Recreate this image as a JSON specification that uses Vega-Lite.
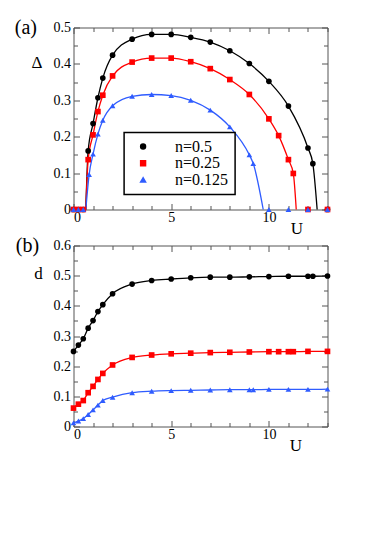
{
  "$schema": "https://vega.github.io/schema/vega-lite/v6.json",
  "background": "white",
  "padding": {"left": 13.5, "top": 16.5, "right": 5, "bottom": 5},
  "bounds": "flush",
  "spacing": 36,
  "config": {
    "font": "Liberation Serif",
    "view": {"stroke": "#555", "strokeWidth": 1},
    "axis": {
      "grid": false,
      "domain": false,
      "labelFont": "Liberation Serif",
      "labelFontSize": 14,
      "labelColor": "#000",
      "tickColor": "#555",
      "tickWidth": 1,
      "titleFont": "Liberation Serif",
      "titleFontWeight": "normal",
      "titleColor": "#000",
      "titleFontSize": 17
    },
    "legend": {"strokeWidth": 1.5},
    "title": {"font": "Liberation Serif", "fontWeight": "normal", "fontSize": 20, "color": "#000"}
  },
  "datasets": {
    "a_pts": [
      {"U": 0, "v": 0, "n": "n=0.5"}, {"U": 0.25, "v": 0, "n": "n=0.5"}, {"U": 0.5, "v": 0, "n": "n=0.5"},
      {"U": 0.75, "v": 0.161, "n": "n=0.5"}, {"U": 1, "v": 0.236, "n": "n=0.5"}, {"U": 1.25, "v": 0.307, "n": "n=0.5"},
      {"U": 1.5, "v": 0.361, "n": "n=0.5"}, {"U": 2, "v": 0.424, "n": "n=0.5"}, {"U": 3, "v": 0.468, "n": "n=0.5"},
      {"U": 4, "v": 0.481, "n": "n=0.5"}, {"U": 5, "v": 0.481, "n": "n=0.5"}, {"U": 6, "v": 0.473, "n": "n=0.5"},
      {"U": 7, "v": 0.46, "n": "n=0.5"}, {"U": 8, "v": 0.436, "n": "n=0.5"}, {"U": 9, "v": 0.401, "n": "n=0.5"},
      {"U": 10, "v": 0.352, "n": "n=0.5"}, {"U": 11, "v": 0.284, "n": "n=0.5"}, {"U": 12, "v": 0.169, "n": "n=0.5"},
      {"U": 12.25, "v": 0.126, "n": "n=0.5"}, {"U": 13, "v": 0, "n": "n=0.5"},
      {"U": 0, "v": 0, "n": "n=0.25"}, {"U": 0.25, "v": 0, "n": "n=0.25"}, {"U": 0.5, "v": 0, "n": "n=0.25"},
      {"U": 0.75, "v": 0.137, "n": "n=0.25"}, {"U": 1, "v": 0.205, "n": "n=0.25"}, {"U": 1.25, "v": 0.269, "n": "n=0.25"},
      {"U": 1.5, "v": 0.314, "n": "n=0.25"}, {"U": 2, "v": 0.367, "n": "n=0.25"}, {"U": 3, "v": 0.405, "n": "n=0.25"},
      {"U": 4, "v": 0.416, "n": "n=0.25"}, {"U": 5, "v": 0.416, "n": "n=0.25"}, {"U": 6, "v": 0.406, "n": "n=0.25"},
      {"U": 7, "v": 0.387, "n": "n=0.25"}, {"U": 8, "v": 0.357, "n": "n=0.25"}, {"U": 9, "v": 0.316, "n": "n=0.25"},
      {"U": 10, "v": 0.249, "n": "n=0.25"}, {"U": 10.5, "v": 0.203, "n": "n=0.25"}, {"U": 11, "v": 0.137, "n": "n=0.25"},
      {"U": 11.25, "v": 0.099, "n": "n=0.25"}, {"U": 12, "v": 0, "n": "n=0.25"}, {"U": 13, "v": 0, "n": "n=0.25"},
      {"U": 0, "v": 0, "n": "n=0.125"}, {"U": 0.25, "v": 0, "n": "n=0.125"}, {"U": 0.5, "v": 0, "n": "n=0.125"},
      {"U": 0.8, "v": 0.096, "n": "n=0.125"}, {"U": 1, "v": 0.152, "n": "n=0.125"}, {"U": 1.25, "v": 0.207, "n": "n=0.125"},
      {"U": 1.5, "v": 0.245, "n": "n=0.125"}, {"U": 2, "v": 0.285, "n": "n=0.125"}, {"U": 3, "v": 0.311, "n": "n=0.125"},
      {"U": 4, "v": 0.316, "n": "n=0.125"}, {"U": 5, "v": 0.313, "n": "n=0.125"}, {"U": 6, "v": 0.3, "n": "n=0.125"},
      {"U": 7, "v": 0.273, "n": "n=0.125"}, {"U": 8, "v": 0.227, "n": "n=0.125"}, {"U": 9, "v": 0.15, "n": "n=0.125"},
      {"U": 9.2, "v": 0.126, "n": "n=0.125"}, {"U": 10, "v": 0, "n": "n=0.125"}, {"U": 11, "v": 0, "n": "n=0.125"},
      {"U": 12, "v": 0, "n": "n=0.125"}, {"U": 13, "v": 0, "n": "n=0.125"}
    ],
    "a_curve": [
      {"U": 0, "v": 0, "n": "n=0.5", "seg": "z"}, {"U": 0.63, "v": 0, "n": "n=0.5", "seg": "z"},
      {"U": 0.63, "v": 0, "n": "n=0.5", "seg": "c"}, {"U": 0.75, "v": 0.161, "n": "n=0.5", "seg": "c"},
      {"U": 1, "v": 0.236, "n": "n=0.5", "seg": "c"}, {"U": 1.25, "v": 0.307, "n": "n=0.5", "seg": "c"},
      {"U": 1.5, "v": 0.361, "n": "n=0.5", "seg": "c"}, {"U": 2, "v": 0.424, "n": "n=0.5", "seg": "c"},
      {"U": 3, "v": 0.468, "n": "n=0.5", "seg": "c"}, {"U": 4, "v": 0.481, "n": "n=0.5", "seg": "c"},
      {"U": 5, "v": 0.481, "n": "n=0.5", "seg": "c"}, {"U": 6, "v": 0.473, "n": "n=0.5", "seg": "c"},
      {"U": 7, "v": 0.46, "n": "n=0.5", "seg": "c"}, {"U": 8, "v": 0.436, "n": "n=0.5", "seg": "c"},
      {"U": 9, "v": 0.401, "n": "n=0.5", "seg": "c"}, {"U": 10, "v": 0.352, "n": "n=0.5", "seg": "c"},
      {"U": 11, "v": 0.284, "n": "n=0.5", "seg": "c"}, {"U": 12, "v": 0.169, "n": "n=0.5", "seg": "c"},
      {"U": 12.25, "v": 0.126, "n": "n=0.5", "seg": "c"}, {"U": 12.47, "v": 0, "n": "n=0.5", "seg": "c"},
      {"U": 0, "v": 0, "n": "n=0.25", "seg": "z"}, {"U": 0.63, "v": 0, "n": "n=0.25", "seg": "z"},
      {"U": 0.63, "v": 0, "n": "n=0.25", "seg": "c"}, {"U": 0.75, "v": 0.137, "n": "n=0.25", "seg": "c"},
      {"U": 1, "v": 0.205, "n": "n=0.25", "seg": "c"}, {"U": 1.25, "v": 0.269, "n": "n=0.25", "seg": "c"},
      {"U": 1.5, "v": 0.314, "n": "n=0.25", "seg": "c"}, {"U": 2, "v": 0.367, "n": "n=0.25", "seg": "c"},
      {"U": 3, "v": 0.405, "n": "n=0.25", "seg": "c"}, {"U": 4, "v": 0.416, "n": "n=0.25", "seg": "c"},
      {"U": 5, "v": 0.416, "n": "n=0.25", "seg": "c"}, {"U": 6, "v": 0.406, "n": "n=0.25", "seg": "c"},
      {"U": 7, "v": 0.387, "n": "n=0.25", "seg": "c"}, {"U": 8, "v": 0.357, "n": "n=0.25", "seg": "c"},
      {"U": 9, "v": 0.316, "n": "n=0.25", "seg": "c"}, {"U": 10, "v": 0.249, "n": "n=0.25", "seg": "c"},
      {"U": 10.5, "v": 0.203, "n": "n=0.25", "seg": "c"}, {"U": 11, "v": 0.137, "n": "n=0.25", "seg": "c"},
      {"U": 11.25, "v": 0.099, "n": "n=0.25", "seg": "c"}, {"U": 11.4, "v": 0, "n": "n=0.25", "seg": "c"},
      {"U": 0, "v": 0, "n": "n=0.125", "seg": "z"}, {"U": 0.63, "v": 0, "n": "n=0.125", "seg": "z"},
      {"U": 0.63, "v": 0, "n": "n=0.125", "seg": "c"}, {"U": 0.8, "v": 0.096, "n": "n=0.125", "seg": "c"},
      {"U": 1, "v": 0.152, "n": "n=0.125", "seg": "c"}, {"U": 1.25, "v": 0.207, "n": "n=0.125", "seg": "c"},
      {"U": 1.5, "v": 0.245, "n": "n=0.125", "seg": "c"}, {"U": 2, "v": 0.285, "n": "n=0.125", "seg": "c"},
      {"U": 3, "v": 0.311, "n": "n=0.125", "seg": "c"}, {"U": 4, "v": 0.316, "n": "n=0.125", "seg": "c"},
      {"U": 5, "v": 0.313, "n": "n=0.125", "seg": "c"}, {"U": 6, "v": 0.3, "n": "n=0.125", "seg": "c"},
      {"U": 7, "v": 0.273, "n": "n=0.125", "seg": "c"}, {"U": 8, "v": 0.227, "n": "n=0.125", "seg": "c"},
      {"U": 9, "v": 0.15, "n": "n=0.125", "seg": "c"}, {"U": 9.2, "v": 0.126, "n": "n=0.125", "seg": "c"},
      {"U": 9.71, "v": 0, "n": "n=0.125", "seg": "c"}
    ],
    "b_pts": [
      {"U": 0, "v": 0.249, "n": "n=0.5"}, {"U": 0.25, "v": 0.27, "n": "n=0.5"}, {"U": 0.5, "v": 0.291, "n": "n=0.5"},
      {"U": 0.75, "v": 0.326, "n": "n=0.5"}, {"U": 1, "v": 0.351, "n": "n=0.5"}, {"U": 1.25, "v": 0.381, "n": "n=0.5"},
      {"U": 1.5, "v": 0.404, "n": "n=0.5"}, {"U": 2, "v": 0.44, "n": "n=0.5"}, {"U": 3, "v": 0.472, "n": "n=0.5"},
      {"U": 4, "v": 0.484, "n": "n=0.5"}, {"U": 5, "v": 0.489, "n": "n=0.5"}, {"U": 6, "v": 0.493, "n": "n=0.5"},
      {"U": 7, "v": 0.495, "n": "n=0.5"}, {"U": 8, "v": 0.495, "n": "n=0.5"}, {"U": 9, "v": 0.496, "n": "n=0.5"},
      {"U": 10, "v": 0.497, "n": "n=0.5"}, {"U": 11, "v": 0.498, "n": "n=0.5"}, {"U": 12, "v": 0.498, "n": "n=0.5"},
      {"U": 12.25, "v": 0.498, "n": "n=0.5"}, {"U": 13, "v": 0.499, "n": "n=0.5"},
      {"U": 0, "v": 0.061, "n": "n=0.25"}, {"U": 0.25, "v": 0.074, "n": "n=0.25"}, {"U": 0.5, "v": 0.086, "n": "n=0.25"},
      {"U": 0.75, "v": 0.112, "n": "n=0.25"}, {"U": 1, "v": 0.133, "n": "n=0.25"}, {"U": 1.25, "v": 0.156, "n": "n=0.25"},
      {"U": 1.5, "v": 0.176, "n": "n=0.25"}, {"U": 2, "v": 0.204, "n": "n=0.25"}, {"U": 3, "v": 0.229, "n": "n=0.25"},
      {"U": 4, "v": 0.237, "n": "n=0.25"}, {"U": 5, "v": 0.241, "n": "n=0.25"}, {"U": 6, "v": 0.243, "n": "n=0.25"},
      {"U": 7, "v": 0.245, "n": "n=0.25"}, {"U": 8, "v": 0.246, "n": "n=0.25"}, {"U": 9, "v": 0.247, "n": "n=0.25"},
      {"U": 10, "v": 0.248, "n": "n=0.25"}, {"U": 10.5, "v": 0.248, "n": "n=0.25"}, {"U": 11, "v": 0.248, "n": "n=0.25"},
      {"U": 11.25, "v": 0.248, "n": "n=0.25"}, {"U": 12, "v": 0.249, "n": "n=0.25"}, {"U": 13, "v": 0.249, "n": "n=0.25"},
      {"U": 0, "v": 0.012, "n": "n=0.125"}, {"U": 0.25, "v": 0.018, "n": "n=0.125"}, {"U": 0.5, "v": 0.026, "n": "n=0.125"},
      {"U": 0.75, "v": 0.04, "n": "n=0.125"}, {"U": 1, "v": 0.055, "n": "n=0.125"}, {"U": 1.25, "v": 0.071, "n": "n=0.125"},
      {"U": 1.5, "v": 0.086, "n": "n=0.125"}, {"U": 2, "v": 0.097, "n": "n=0.125"}, {"U": 3, "v": 0.112, "n": "n=0.125"},
      {"U": 4, "v": 0.117, "n": "n=0.125"}, {"U": 5, "v": 0.119, "n": "n=0.125"}, {"U": 6, "v": 0.12, "n": "n=0.125"},
      {"U": 7, "v": 0.121, "n": "n=0.125"}, {"U": 8, "v": 0.122, "n": "n=0.125"}, {"U": 9, "v": 0.122, "n": "n=0.125"},
      {"U": 9.2, "v": 0.122, "n": "n=0.125"}, {"U": 10, "v": 0.123, "n": "n=0.125"}, {"U": 11, "v": 0.123, "n": "n=0.125"},
      {"U": 12, "v": 0.123, "n": "n=0.125"}, {"U": 13, "v": 0.124, "n": "n=0.125"}
    ]
  },
  "vconcat": [
    {
      "width": 254,
      "height": 182,
      "title": {"text": "(a)", "anchor": "start", "frame": "group", "orient": "top", "offset": 0, "baseline": "middle", "dx": -58.7, "dy": 27},
      "layer": [
        {
          "data": {"name": "a_curve"},
          "mark": {"type": "line", "interpolate": "monotone", "strokeWidth": 1.3},
          "encoding": {
            "x": {"field": "U", "type": "quantitative", "scale": {"domain": [0, 13], "nice": false, "zero": false},
              "axis": {"orient": "bottom", "values": [0,1,2,3,4,5,6,7,8,9,10,11,12,13],
                "labelExpr": "datum.value % 5 === 0 ? datum.label : ''", "labelFont": "Liberation Serif",
                "tickSize": {"condition": {"test": "datum.value % 5 === 0", "value": -6}, "value": -4},
                "labelPadding": 7, "title": "U", "titleX": 222.8, "titleY": 18.7, "titleAngle": 0,
                "titleAlign": "center", "titleBaseline": "middle"}},
            "y": {"field": "v", "type": "quantitative", "scale": {"domain": [0, 0.5], "nice": false},
              "axis": {"orient": "left", "values": [0,0.05,0.1,0.15,0.2,0.25,0.3,0.35,0.4,0.45,0.5],
                "labelExpr": "round(datum.value*20) % 2 === 0 ? (datum.value === 0 ? '0' : format(datum.value, '.1f')) : ''", "labelFont": "Liberation Serif",
                "tickSize": {"condition": {"test": "round(datum.value*20) % 2 === 0", "value": -6}, "value": -4},
                "labelPadding": 9, "title": "Δ", "titleX": -37, "titleY": 34.5, "titleAngle": 0,
                "titleAlign": "center", "titleBaseline": "middle"}},
            "color": {"field": "n", "type": "nominal", "scale": {"domain": ["n=0.5", "n=0.25", "n=0.125"], "range": ["#000000", "#ff0000", "#2f5cff"]}},
            "detail": {"field": "seg"}
          }
        },
        {
          "data": {"name": "a_pts"},
          "mark": {"type": "point", "filled": true, "opacity": 1, "size": 32},
          "encoding": {
            "x": {"field": "U", "type": "quantitative",
              "axis": {"orient": "top", "values": [0,1,2,3,4,5,6,7,8,9,10,11,12,13], "labels": false, "title": null,
                "tickSize": {"condition": {"test": "datum.value % 5 === 0", "value": -6}, "value": -4}}},
            "y": {"field": "v", "type": "quantitative",
              "axis": {"orient": "right", "values": [0,0.05,0.1,0.15,0.2,0.25,0.3,0.35,0.4,0.45,0.5], "labels": false, "title": null,
                "tickSize": {"condition": {"test": "round(datum.value*20) % 2 === 0", "value": -6}, "value": -4}}},
            "color": {"field": "n", "type": "nominal",
              "legend": {"orient": "none", "legendX": 50.6, "legendY": 105, "title": null, "strokeColor": "#000", "fillColor": "#fff",
                "padding": 6, "labelFontSize": 16, "labelFont": "Liberation Serif", "symbolSize": 24, "symbolOffset": 5, "labelOffset": 24, "rowPadding": 0.7}},
            "shape": {"field": "n", "type": "nominal", "scale": {"domain": ["n=0.5", "n=0.25", "n=0.125"], "range": ["circle", "square", "triangle-up"]}}
          }
        }
      ],
      "resolve": {"axis": {"x": "independent", "y": "independent"}}
    },
    {
      "width": 254,
      "height": 181,
      "title": {"text": "(b)", "anchor": "start", "frame": "group", "orient": "top", "offset": 0, "baseline": "middle", "dx": -57.7, "dy": 27},
      "data": {"name": "b_pts"},
      "layer": [
        {
          "mark": {"type": "line", "interpolate": "monotone", "strokeWidth": 1.3},
          "encoding": {
            "x": {"field": "U", "type": "quantitative", "scale": {"domain": [0, 13], "nice": false, "zero": false},
              "axis": {"orient": "bottom", "values": [0,1,2,3,4,5,6,7,8,9,10,11,12,13],
                "labelExpr": "datum.value % 5 === 0 ? datum.label : ''", "labelFont": "Liberation Serif",
                "tickSize": {"condition": {"test": "datum.value % 5 === 0", "value": -6}, "value": -4},
                "labelPadding": 7, "title": "U", "titleX": 221.8, "titleY": 19, "titleAngle": 0,
                "titleAlign": "center", "titleBaseline": "middle"}},
            "y": {"field": "v", "type": "quantitative", "scale": {"domain": [0, 0.6], "nice": false},
              "axis": {"orient": "left", "values": [0,0.05,0.1,0.15,0.2,0.25,0.3,0.35,0.4,0.45,0.5,0.55,0.6],
                "labelExpr": "round(datum.value*20) % 2 === 0 ? (datum.value === 0 ? '0' : format(datum.value, '.1f')) : ''", "labelFont": "Liberation Serif",
                "tickSize": {"condition": {"test": "round(datum.value*20) % 2 === 0", "value": -6}, "value": -4},
                "labelPadding": 9, "title": "d", "titleX": -35.5, "titleY": 28, "titleAngle": 0,
                "titleAlign": "center", "titleBaseline": "middle"}},
            "color": {"field": "n", "type": "nominal", "scale": {"domain": ["n=0.5", "n=0.25", "n=0.125"], "range": ["#000000", "#ff0000", "#2f5cff"]}, "legend": null}
          }
        },
        {
          "mark": {"type": "point", "filled": true, "opacity": 1, "size": 32},
          "encoding": {
            "x": {"field": "U", "type": "quantitative",
              "axis": {"orient": "top", "values": [0,1,2,3,4,5,6,7,8,9,10,11,12,13], "labels": false, "title": null,
                "tickSize": {"condition": {"test": "datum.value % 5 === 0", "value": -6}, "value": -4}}},
            "y": {"field": "v", "type": "quantitative",
              "axis": {"orient": "right", "values": [0,0.05,0.1,0.15,0.2,0.25,0.3,0.35,0.4,0.45,0.5,0.55,0.6], "labels": false, "title": null,
                "tickSize": {"condition": {"test": "round(datum.value*20) % 2 === 0", "value": -6}, "value": -4}}},
            "color": {"field": "n", "type": "nominal", "legend": null},
            "shape": {"field": "n", "type": "nominal", "scale": {"domain": ["n=0.5", "n=0.25", "n=0.125"], "range": ["circle", "square", "triangle-up"]}, "legend": null}
          }
        }
      ],
      "resolve": {"axis": {"x": "independent", "y": "independent"}}
    }
  ]
}
